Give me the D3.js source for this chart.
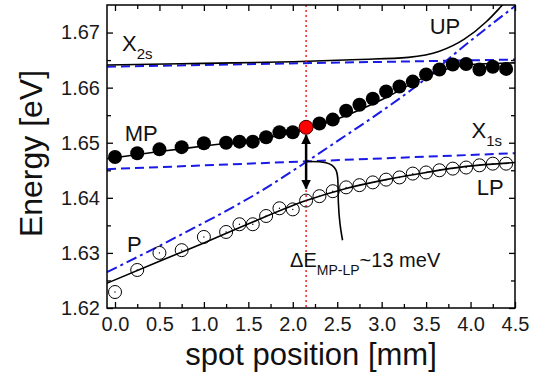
<!DOCTYPE html>
<html>
<head>
<meta charset="utf-8">
<script src="https://cdn.jsdelivr.net/npm/d3@7"></script>
<style>
  body { margin: 0; background: #fff; }
  svg { font-family: "Liberation Sans", Arial, sans-serif; }
</style>
</head>
<body>
<svg id="chart" width="546" height="379"></svg>
<script>
// spot positions of the measured points [mm]
const spot = [0, 0.25, 0.5, 0.75, 1.0, 1.25, 1.4, 1.55, 1.7, 1.85, 2.0, 2.15, 2.3, 2.45,
  2.6, 2.75, 2.9, 3.05, 3.2, 3.35, 3.5, 3.65, 3.8, 3.95, 4.1, 4.25, 4.4]
// middle polariton (filled)
const mpEnergy = [1.6474, 1.6481, 1.6488, 1.6492, 1.6499, 1.6500, 1.6502, 1.6502, 1.6510,
  1.6519, 1.6519, 1.6528, 1.6535, 1.6542, 1.6558, 1.6569, 1.6580, 1.6593, 1.6602, 1.6611,
  1.6624, 1.6633, 1.6642, 1.6643, 1.6633, 1.6638, 1.6634]
// lower polariton (open)
const lpEnergy = [1.6229, 1.6269, 1.6300, 1.6305, 1.6329, 1.6338, 1.6352, 1.6352, 1.6367,
  1.6381, 1.6379, 1.6395, 1.6403, 1.6412, 1.6419, 1.6423, 1.6428, 1.6433, 1.6437, 1.6444,
  1.6446, 1.6450, 1.6453, 1.6455, 1.6459, 1.6462, 1.6462]
const markedSpot = 2.15   // red point / dotted line

// model curves: [x, E]
const upLine = [[-0.09, 1.6641], [1.0, 1.6644], [2.0, 1.6647], [2.75, 1.6651], [3.3, 1.6655],
  [3.65, 1.6666], [3.93, 1.6688], [4.18, 1.6720], [4.33, 1.6745], [4.37, 1.6752]]
const mpLine = [[-0.09, 1.6471], [0.5, 1.6484], [1.0, 1.6494], [1.5, 1.6504], [2.0, 1.6518],
  [2.5, 1.6543], [3.0, 1.6578], [3.5, 1.6620], [3.8, 1.6637], [4.1, 1.6643], [4.5, 1.6645]]
const lpLine = [[-0.09, 1.6245], [0.5, 1.6285], [1.0, 1.6318], [1.55, 1.6356], [2.15, 1.6395],
  [2.6, 1.6417], [3.05, 1.6433], [3.5, 1.6446], [3.95, 1.6457], [4.5, 1.6464]]
const photonLine = [[-0.09, 1.6265], [0.73, 1.6332], [1.66, 1.6414], [2.15, 1.6465], [2.53, 1.6506],
  [2.98, 1.6555], [3.43, 1.6608], [3.84, 1.6664], [4.5, 1.6748]]
const x2sLine = [[-0.09, 1.6638], [4.5, 1.6651]]
const x1sLine = [[-0.09, 1.6452], [4.5, 1.6481]]

const xTicks = [0, 0.5, 1.0, 1.5, 2.0, 2.5, 3.0, 3.5, 4.0, 4.5]
const xMinor = [0.25, 0.75, 1.25, 1.75, 2.25, 2.75, 3.25, 3.75, 4.25]
const yTicks = [1.62, 1.63, 1.64, 1.65, 1.66, 1.67]
const yMinor = [1.625, 1.635, 1.645, 1.655, 1.665]

const margin = {top: 5, right: 31, bottom: 71, left: 107}
const W = 546 - margin.left - margin.right
const H = 379 - margin.top - margin.bottom

const svg = d3.select("#chart")
const g = svg.append("g").attr("transform", `translate(${margin.left},${margin.top})`)

const x = d3.scaleLinear().domain([-0.09, 4.5]).range([0, W])
const y = d3.scaleLinear().domain([1.62, 1.675]).range([H, 0])

const blue = "#1a1ae6"

function styleAxis(sel) {
  sel.select(".domain").remove()
  sel.selectAll("line").attr("stroke", "#000").attr("stroke-width", 1.3)
  sel.selectAll("text").attr("font-size", 20).attr("fill", "#1a1a1a")
}
function noLabels(sel) {
  sel.selectAll("text").remove()
}

// major + minor ticks on all four sides, pointing inward
g.append("g").attr("transform", `translate(0,${H})`)
  .call(d3.axisBottom(x).tickValues(xTicks).tickSize(-6).tickPadding(9).tickFormat(d3.format(".1f")))
  .call(styleAxis)
g.append("g").attr("transform", `translate(0,${H})`)
  .call(d3.axisBottom(x).tickValues(xMinor).tickSize(-4))
  .call(styleAxis).call(noLabels)
g.append("g")
  .call(d3.axisTop(x).tickValues(xTicks).tickSize(-6))
  .call(styleAxis).call(noLabels)
g.append("g")
  .call(d3.axisTop(x).tickValues(xMinor).tickSize(-4))
  .call(styleAxis).call(noLabels)

g.append("g")
  .call(d3.axisLeft(y).tickValues(yTicks).tickSize(-6).tickPadding(7).tickFormat(d3.format(".2f")))
  .call(styleAxis)
g.append("g")
  .call(d3.axisLeft(y).tickValues(yMinor).tickSize(-4))
  .call(styleAxis).call(noLabels)
g.append("g").attr("transform", `translate(${W},0)`)
  .call(d3.axisRight(y).tickValues(yTicks).tickSize(-6))
  .call(styleAxis).call(noLabels)
g.append("g").attr("transform", `translate(${W},0)`)
  .call(d3.axisRight(y).tickValues(yMinor).tickSize(-4))
  .call(styleAxis).call(noLabels)

// clip lines to the frame
const defs = svg.append("defs")
defs.append("clipPath").attr("id", "clip")
  .append("rect").attr("width", W).attr("height", H)

const plot = g.append("g").attr("clip-path", "url(#clip)")

const line = d3.line().x(d => x(d[0])).y(d => y(d[1])).curve(d3.curveMonotoneX)

plot.append("path").datum(x2sLine).attr("d", line)
  .attr("fill", "none").attr("stroke", blue).attr("stroke-width", 2).attr("stroke-dasharray", "9,5")
plot.append("path").datum(x1sLine).attr("d", line)
  .attr("fill", "none").attr("stroke", blue).attr("stroke-width", 2).attr("stroke-dasharray", "9,5")
plot.append("path").datum(photonLine).attr("d", line)
  .attr("fill", "none").attr("stroke", blue).attr("stroke-width", 2).attr("stroke-dasharray", "11,4,3,4")

for (const ln of [upLine, mpLine, lpLine]) {
  plot.append("path").datum(ln).attr("d", line)
    .attr("fill", "none").attr("stroke", "#000").attr("stroke-width", 1.6)
}

// red dotted marker line
plot.append("line")
  .attr("x1", x(markedSpot)).attr("x2", x(markedSpot))
  .attr("y1", 0).attr("y2", H)
  .attr("stroke", "#ee2222").attr("stroke-width", 1.5).attr("stroke-dasharray", "2,3")

// LP open circles
const lpData = spot.map((s, i) => ({s: s, e: lpEnergy[i]}))
plot.selectAll("circle.lp").data(lpData).enter()
  .append("circle").attr("class", "lp")
  .attr("cx", d => x(d.s)).attr("cy", d => y(d.e)).attr("r", 6.5)
  .attr("fill", "none").attr("stroke", "#000").attr("stroke-width", 1)
plot.selectAll("circle.lpdot").data(lpData).enter()
  .append("circle").attr("class", "lpdot")
  .attr("cx", d => x(d.s)).attr("cy", d => y(d.e)).attr("r", 0.7)
  .attr("fill", "#000")

// MP filled circles
const mpData = spot.map((s, i) => ({s: s, e: mpEnergy[i]}))
plot.selectAll("circle.mp").data(mpData).enter()
  .append("circle").attr("class", "mp")
  .attr("cx", d => x(d.s)).attr("cy", d => y(d.e)).attr("r", 7)
  .attr("fill", d => d.s === markedSpot ? "#ff0000" : "#000")
  .attr("stroke", d => d.s === markedSpot ? "#400" : "none")
  .attr("stroke-width", 1)

// double arrow MP -> LP
defs.append("marker").attr("id", "head")
  .attr("viewBox", "0 0 10 10").attr("refX", 9).attr("refY", 5)
  .attr("markerWidth", 4).attr("markerHeight", 4).attr("markerUnits", "strokeWidth")
  .attr("orient", "auto-start-reverse")
  .append("path").attr("d", "M0,0 L10,5 L0,10 Z").attr("fill", "#000")

const iMark = spot.indexOf(markedSpot)
g.append("line")
  .attr("x1", x(markedSpot)).attr("x2", x(markedSpot))
  .attr("y1", y(mpEnergy[iMark]) + 8).attr("y2", y(lpEnergy[iMark]) - 12)
  .attr("stroke", "#000").attr("stroke-width", 2.5)
  .attr("marker-start", "url(#head)").attr("marker-end", "url(#head)")

// bracket line to the label
const bracket = [[2.15, 1.6466], [2.40, 1.6466], [2.50, 1.6452], [2.51, 1.6430], [2.51, 1.6390],
  [2.53, 1.6350], [2.56, 1.6323]]
g.append("path").datum(bracket)
  .attr("d", d3.line().x(d => x(d[0])).y(d => y(d[1])).curve(d3.curveBasis))
  .attr("fill", "none").attr("stroke", "#000").attr("stroke-width", 1.6)

// labels
function label(px, py, main, sub, size) {
  const t = g.append("text").attr("x", x(px)).attr("y", y(py))
    .attr("font-size", size).attr("fill", "#111")
  t.append("tspan").text(main)
  if (sub) t.append("tspan").attr("dy", 8).attr("font-size", size * 0.68).text(sub)
  return t
}
label(0.08, 1.6667, "X", "2s", 22)
label(0.11, 1.6504, "MP", null, 22)
label(3.54, 1.6698, "UP", null, 22)
label(4.01, 1.6508, "X", "1s", 22)
label(4.07, 1.6405, "LP", null, 22)
label(0.135, 1.6301, "P", null, 22)

const de = g.append("text").attr("x", x(1.97)).attr("y", y(1.6274))
  .attr("font-size", 20).attr("fill", "#111")
de.append("tspan").text("\u0394E")
de.append("tspan").attr("dy", 8).attr("font-size", 14).text("MP-LP")
de.append("tspan").attr("dy", -8).text("~13 meV")

// frame
g.append("rect").attr("width", W).attr("height", H)
  .attr("fill", "none").attr("stroke", "#000").attr("stroke-width", 1.5)

// axis titles
svg.append("text")
  .attr("transform", `translate(42,${margin.top + H / 2 - 3}) rotate(-90)`)
  .attr("text-anchor", "middle").attr("font-size", 32).attr("fill", "#111")
  .text("Energy [eV]")
svg.append("text")
  .attr("x", margin.left + W / 2).attr("y", 365)
  .attr("text-anchor", "middle").attr("font-size", 31).attr("fill", "#111")
  .text("spot position [mm]")
</script>
</body>
</html>
